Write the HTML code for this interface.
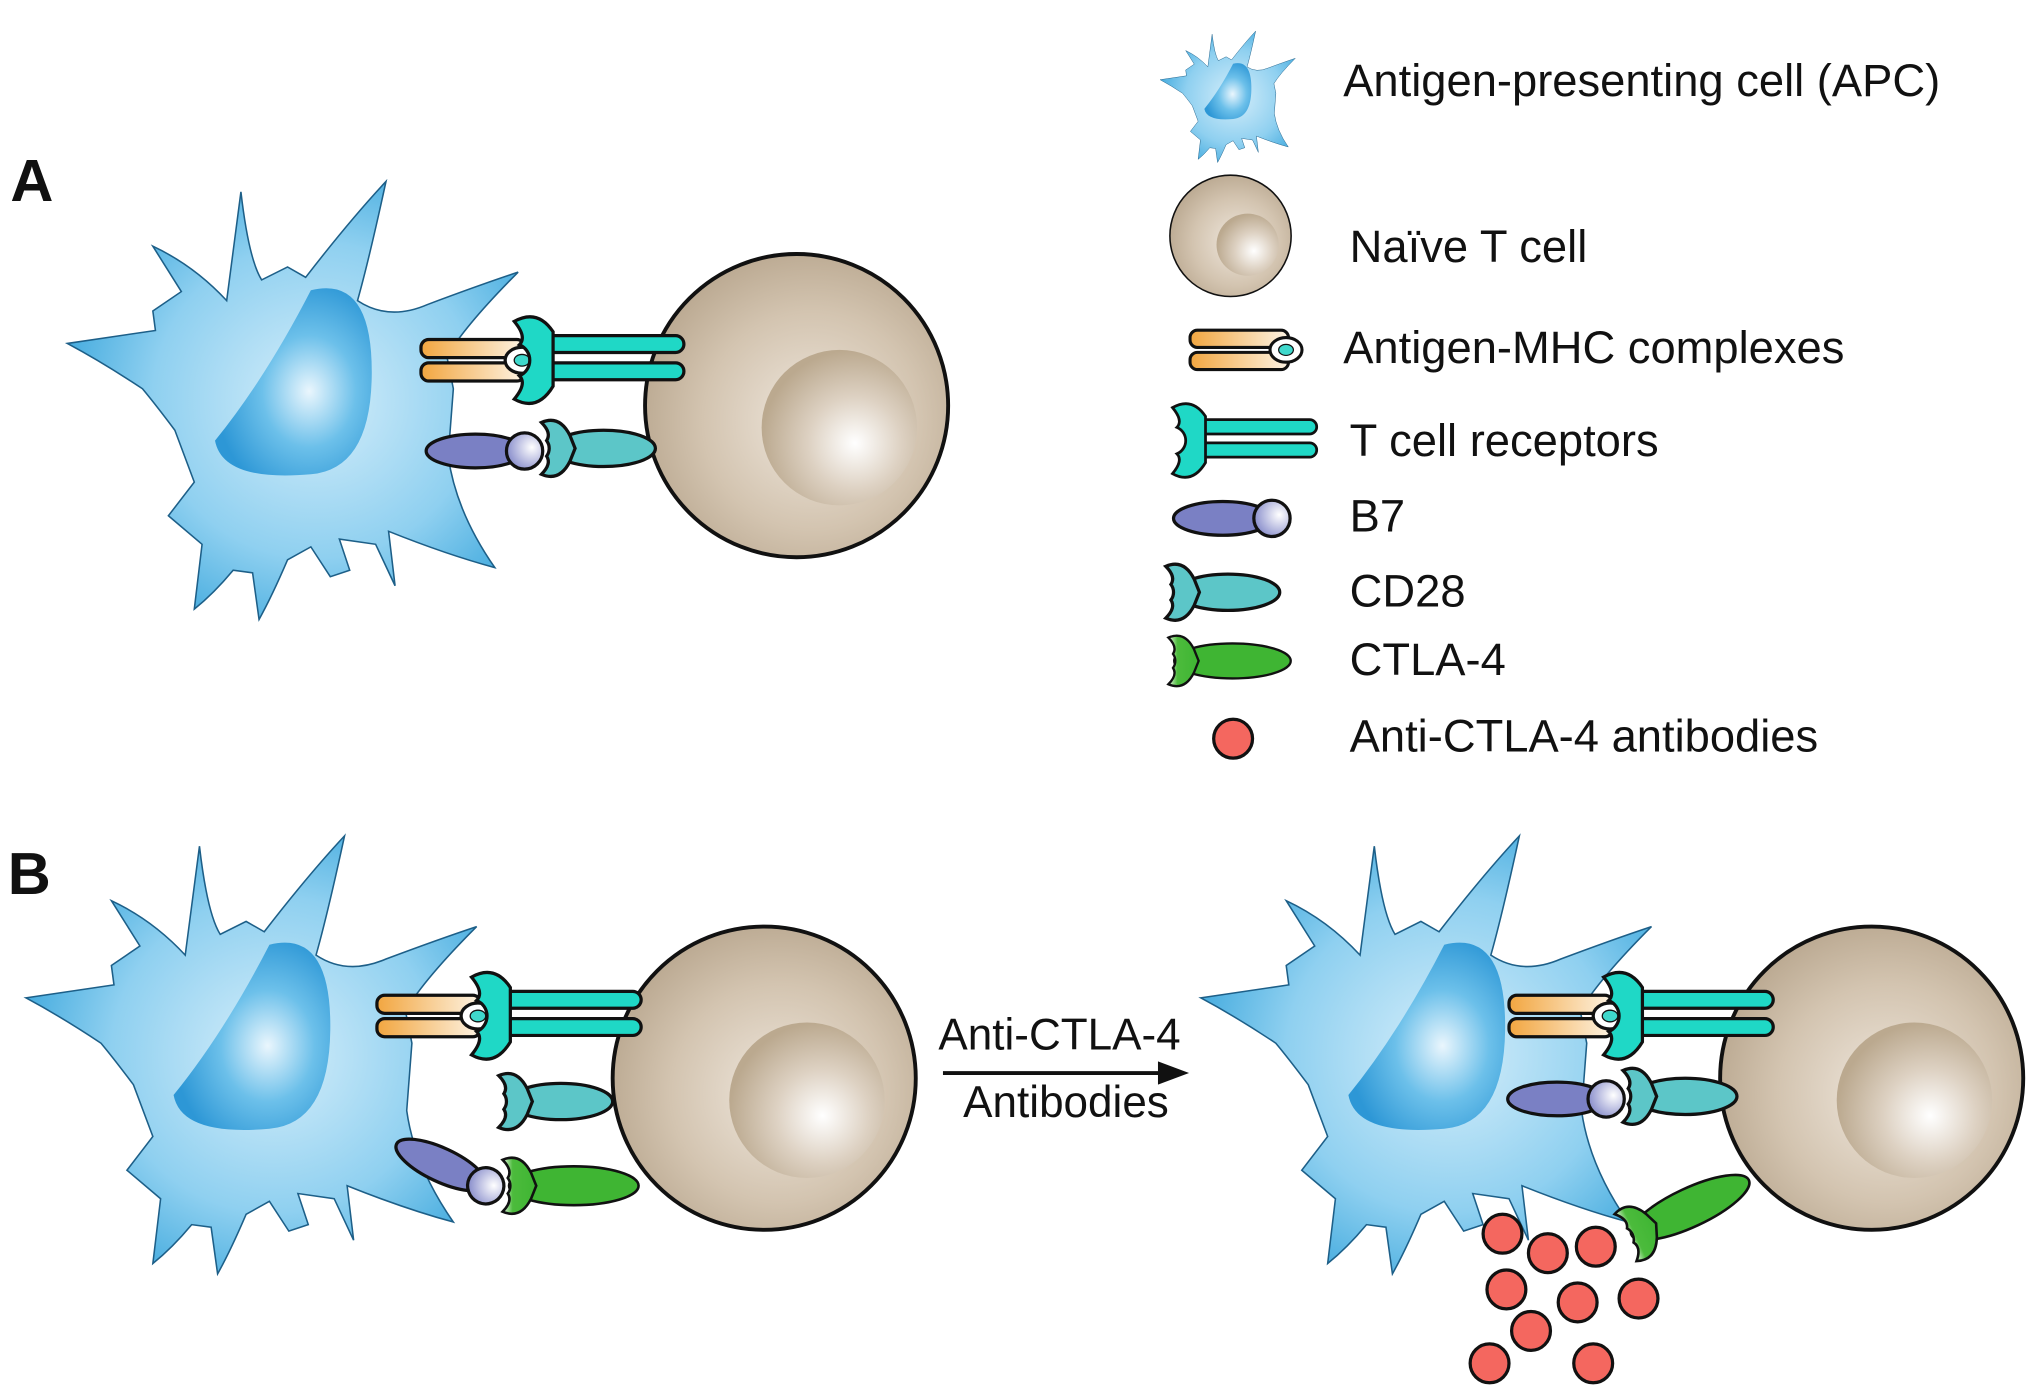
<!DOCTYPE html>
<html><head><meta charset="utf-8"><style>
html,body{margin:0;padding:0;background:#fff}
svg{display:block}
text{font-family:"Liberation Sans",Arial,sans-serif;fill:#111}
</style></head><body>
<svg width="2031" height="1397" viewBox="0 0 1568 1078" preserveAspectRatio="none" xmlns="http://www.w3.org/2000/svg">
<defs>
<radialGradient id="apcG" cx="0.55" cy="0.5" r="0.6"><stop offset="0" stop-color="#d6eefa"/><stop offset="0.6" stop-color="#8fd0f0"/><stop offset="1" stop-color="#3aa6dc"/></radialGradient>
<radialGradient id="nucG" cx="0.6" cy="0.55" r="0.6"><stop offset="0" stop-color="#eaf6fd"/><stop offset="0.5" stop-color="#6cc0ea"/><stop offset="1" stop-color="#2d97d6"/></radialGradient>
<radialGradient id="tG" cx="0.55" cy="0.55" r="0.6"><stop offset="0" stop-color="#efe7dd"/><stop offset="0.6" stop-color="#d3c4b0"/><stop offset="1" stop-color="#b8a68e"/></radialGradient>
<radialGradient id="tnG" cx="0.6" cy="0.6" r="0.6"><stop offset="0" stop-color="#ffffff"/><stop offset="0.5" stop-color="#ddd1c2"/><stop offset="1" stop-color="#bba98f"/></radialGradient>
<linearGradient id="orG" x1="0" x2="1"><stop offset="0" stop-color="#f2a640"/><stop offset="1" stop-color="#fdf3e3"/></linearGradient>
<radialGradient id="b7b" cx="0.7" cy="0.4" r="0.7"><stop offset="0" stop-color="#fff"/><stop offset="1" stop-color="#8a8fcc"/></radialGradient>
<linearGradient id="grG" x1="0" x2="1"><stop offset="0" stop-color="#e8f6e4"/><stop offset="0.3" stop-color="#4cbb3c"/><stop offset="1" stop-color="#3fb533"/></linearGradient>

<g id="apc">
<path d="M52,265 L120,255 L118,240 L140,225 L118,190 Q150,205 175,232 L186,148 Q192,200 202,216 L222,206 L236,214 Q270,170 298,140 Q285,200 276,232 Q300,248 330,235 Q370,220 400,210 Q360,250 345,275 L350,300 L346,352 Q352,395 382,438 Q345,428 300,410 L305,452 L290,420 L262,416 L270,440 L255,445 L240,422 L222,432 Q210,460 200,478 L195,442 L180,440 Q165,458 150,470 L156,420 L130,398 L150,372 L135,332 Q120,312 110,300 Q80,280 52,265 Z" fill="url(#apcG)" stroke="#1d5f88" stroke-width="1.2"/>
<path d="M240,224 Q288,212 287,290 Q286,362 240,366 Q172,372 166,340 Q205,292 240,224 Z" fill="url(#nucG)"/>
</g>
<g id="tcell">
<circle r="117" fill="url(#tG)" stroke="#111" stroke-width="3"/>
<circle cx="33" cy="17" r="60" fill="url(#tnG)"/>
</g>
<g id="mhc">
<rect x="-75" y="-16" width="80" height="14" rx="6" fill="url(#orG)" stroke="#111" stroke-width="2.5"/>
<rect x="-75" y="2" width="80" height="14" rx="6" fill="url(#orG)" stroke="#111" stroke-width="2.5"/>
<ellipse cx="3" cy="0" rx="13" ry="10" fill="#fff" stroke="#111" stroke-width="2.5"/>
<ellipse cx="3" cy="0" rx="6" ry="4.5" fill="#3fd8cc" stroke="#111" stroke-width="1"/>
</g>
<g id="tcr">
<rect x="8" y="-19" width="115" height="13" rx="6.5" fill="#1fd8c6" stroke="#111" stroke-width="2.5"/>
<rect x="8" y="2" width="115" height="13" rx="6.5" fill="#1fd8c6" stroke="#111" stroke-width="2.5"/>
<path d="M-8,-30 Q10,-40 22,-22 L22,20 Q10,40 -8,30 Q2,18 -4,12 A13,13 0 0 0 -4,-12 Q2,-18 -8,-30 Z" fill="#1fd8c6" stroke="#111" stroke-width="2.5"/>
</g>
<g id="b7">
<ellipse cx="-38" cy="0" rx="38" ry="13" fill="#7a80c4" stroke="#111" stroke-width="2.5"/>
<circle cx="0" cy="0" r="14" fill="url(#b7b)" stroke="#111" stroke-width="2.5"/>
</g>
<g id="cd28">
<ellipse cx="48" cy="0" rx="40" ry="14" fill="#5cc6c8" stroke="#111" stroke-width="2.5"/>
<path d="M0,-20 Q14,-26 22,-10 L26,0 L22,10 Q14,26 0,20 Q8,12 4,6 A10,10 0 0 0 4,-6 Q8,-12 0,-20 Z" fill="#5cc6c8" stroke="#111" stroke-width="2.5"/>
</g>
<g id="ctla">
<ellipse cx="55" cy="0" rx="50" ry="15" fill="#3fb533" stroke="#111" stroke-width="2"/>
<path d="M0,-20 Q14,-26 22,-10 L26,0 L22,10 Q14,26 0,20 Q8,12 4,6 A10,10 0 0 0 4,-6 Q8,-12 0,-20 Z" fill="url(#grG)" stroke="#111" stroke-width="2"/>
</g>
</defs>

<!-- Panel A -->
<text x="8" y="155" font-size="46" font-weight="bold">A</text>
<use href="#apc"/>
<use href="#tcell" transform="translate(615,313)"/>
<use href="#mhc" transform="translate(400,278)"/>
<use href="#tcr" transform="translate(405,278)"/>
<use href="#b7" transform="translate(405,348)"/>
<use href="#cd28" transform="translate(418,346)"/>

<!-- Legend -->
<use href="#apc" transform="translate(880,-18) scale(0.3)"/>
<text x="1037" y="74" font-size="35">Antigen-presenting cell (APC)</text>
<g transform="translate(950,182) scale(0.4)"><use href="#tcell"/></g>
<text x="1042" y="202" font-size="35">Naïve T cell</text>
<g transform="translate(990,270) scale(0.95)"><use href="#mhc"/></g>
<text x="1037" y="280" font-size="35">Antigen-MHC complexes</text>
<g transform="translate(912,340) scale(0.85)"><use href="#tcr"/></g>
<text x="1042" y="352" font-size="35">T cell receptors</text>
<use href="#b7" transform="translate(982,400)"/>
<text x="1042" y="410" font-size="35">B7</text>
<use href="#cd28" transform="translate(900,457)"/>
<text x="1042" y="468" font-size="35">CD28</text>
<g transform="translate(902,510) scale(0.9)"><use href="#ctla"/></g>
<text x="1042" y="521" font-size="35">CTLA-4</text>
<circle cx="952" cy="570" r="15" fill="#f4675f" stroke="#111" stroke-width="2.5"/>
<text x="1042" y="580" font-size="35">Anti-CTLA-4 antibodies</text>

<!-- Panel B left -->
<text x="6" y="690" font-size="46" font-weight="bold">B</text>
<use href="#apc" transform="translate(-32,505)"/>
<use href="#tcell" transform="translate(590,832)"/>
<use href="#mhc" transform="translate(366,784)"/>
<use href="#tcr" transform="translate(372,784)"/>
<use href="#cd28" transform="translate(385,850)"/>
<use href="#b7" transform="translate(375,915) rotate(25)"/>
<use href="#ctla" transform="translate(388,915)"/>

<!-- Arrow -->
<text x="818" y="810" font-size="34" text-anchor="middle">Anti-CTLA-4</text>
<line x1="728" y1="828" x2="898" y2="828" stroke="#111" stroke-width="3"/>
<path d="M918,828 L894,819 L894,837 Z" fill="#111"/>
<text x="823" y="862" font-size="34" text-anchor="middle">Antibodies</text>

<!-- Panel B right -->
<use href="#apc" transform="translate(875,505)"/>
<use href="#tcell" transform="translate(1445,832)"/>
<use href="#mhc" transform="translate(1240,784)"/>
<use href="#tcr" transform="translate(1246,784)"/>
<use href="#b7" transform="translate(1240,848)"/>
<use href="#cd28" transform="translate(1253,846)"/>
<use href="#ctla" transform="translate(1255,955) rotate(-25)"/>
<g fill="#f4675f" stroke="#111" stroke-width="2.5">
<circle cx="1160" cy="952" r="15"/><circle cx="1195" cy="967" r="15"/><circle cx="1232" cy="962" r="15"/>
<circle cx="1163" cy="995" r="15"/><circle cx="1218" cy="1005" r="15"/><circle cx="1265" cy="1002" r="15"/>
<circle cx="1182" cy="1027" r="15"/><circle cx="1150" cy="1052" r="15"/><circle cx="1230" cy="1052" r="15"/>
</g>
</svg>
</body></html>
